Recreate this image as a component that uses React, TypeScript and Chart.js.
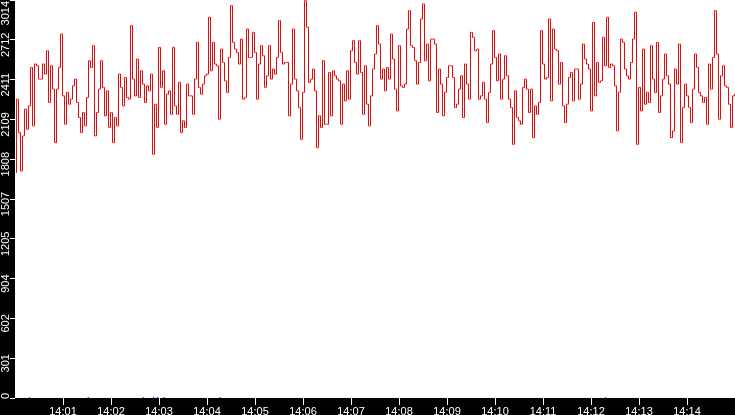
import { useEffect, useRef } from "react";
import { Chart, registerables } from "chart.js";

Chart.register(...registerables);

// Sampling: one reading every 2.5 seconds from 14:00:00 to 14:15:00
const SAMPLE_SECONDS = 2.5;
const SPAN_SECONDS = 900;
const Y_MAX = 3014;

const xTickLabels = [
  "14:01", "14:02", "14:03", "14:04", "14:05", "14:06", "14:07",
  "14:08", "14:09", "14:10", "14:11", "14:12", "14:13", "14:14",
];

const yTickLabels = [
  "0", "301", "602", "904", "1205", "1507", "1808", "2109", "2411", "2712", "3014",
];

const lineValues = [
  1706, 2263, 2010, 1719, 1985, 2187, 2035, 2212, 2503, 2061, 2529, 2516, 2415, 2415, 2529, 2453, 2630, 2238, 2516, 2339,
  1934, 2339, 2503, 2756, 2288, 2073, 2314, 2225, 2263, 2364, 2415, 2238, 2124, 2010, 2162, 2061, 2276, 2554, 2503, 2668,
  1985, 2162, 2339, 2554, 2352, 2137, 2326, 2048, 2162, 1934, 2124, 2061, 2453, 2352, 2212, 2427, 2276, 2263, 2820, 2415,
  2288, 2567, 2276, 2478, 2377, 2238, 2364, 2326, 2453, 1846, 2225, 2048, 2655, 2352, 2478, 2073, 2301, 2326, 2149, 2655,
  2212, 2149, 2390, 2010, 2099, 2048, 2377, 2288, 2288, 2149, 2415, 2693, 2352, 2301, 2377, 2440, 2453, 2883, 2478, 2693,
  2529, 2516, 2111, 2642, 2541, 2402, 2314, 2579, 2971, 2693, 2642, 2617, 2529, 2718, 2263, 2276, 2794, 2579, 2579, 2769,
  2617, 2263, 2529, 2668, 2592, 2352, 2440, 2668, 2415, 2491, 2453, 2579, 2858, 2617, 2529, 2541, 2541, 2137, 2377, 2794,
  2415, 2326, 2200, 1959, 2314, 3009, 2807, 2390, 2415, 2491, 2326, 1896, 2137, 2048, 2554, 2073, 2073, 2465, 2137, 2478,
  2440, 2415, 2402, 2073, 2377, 2250, 2478, 2263, 2630, 2706, 2541, 2453, 2706, 2465, 2149, 2516, 2225, 2061, 2288, 2491,
  2605, 2820, 2680, 2415, 2491, 2326, 2503, 2415, 2756, 2567, 2339, 2174, 2668, 2364, 2352, 2377, 2794, 2933, 2668, 2655,
  2554, 2377, 2541, 2870, 2984, 2554, 2680, 2402, 2718, 2718, 2680, 2162, 2491, 2377, 2137, 2314, 2427, 2516, 2516, 2427,
  2200, 2225, 2339, 2440, 2124, 2529, 2377, 2263, 2769, 2731, 2630, 2642, 2263, 2288, 2390, 2263, 2086, 2314, 2529, 2782,
  2579, 2402, 2605, 2263, 2415, 2592, 2440, 2263, 2200, 1921, 2326, 2124, 2099, 2073, 2352, 2415, 2339, 2162, 2339, 1972,
  2212, 2149, 2238, 2782, 2529, 2415, 2427, 2870, 2250, 2794, 2642, 2630, 2377, 2541, 2212, 2086, 2225, 2427, 2465, 2250,
  2491, 2491, 2263, 2377, 2680, 2567, 2529, 2491, 2174, 2845, 2288, 2541, 2390, 2402, 2731, 2516, 2883, 2503, 2529, 2516,
  2364, 2023, 2314, 2718, 2693, 2491, 2440, 2415, 2541, 2718, 2921, 1921, 2352, 2174, 2642, 2225, 2314, 2238, 2668, 2415,
  2314, 2693, 2162, 2288, 2415, 2605, 2440, 2377, 1972, 2023, 2491, 2377, 2680, 1934, 2200, 2377, 2288, 2200, 2086, 2339,
  2605, 2503, 2314, 2288, 2238, 2276, 2073, 2529, 2339, 2579, 2933, 2605, 2111, 2440, 2516, 2364, 2352, 2225, 2048, 2288,
  2301,
];

// small blue markers sitting on the zero line (seconds after 14:00)
const markerSeconds = [17.5, 91, 160, 172.5, 177.5, 186, 256, 737.5];

const FONT_FAMILY = "'Liberation Sans', Arial, sans-serif";
const FONT = { family: FONT_FAMILY, size: 11 };

const backgroundPlugin = {
  id: "bgPlugin",
  beforeDraw(chart: any) {
    const { ctx, chartArea: a, width, height } = chart;
    ctx.save();
    ctx.fillStyle = "#000000";
    ctx.fillRect(0, 0, width, height);
    ctx.fillStyle = "#ffffff";
    ctx.fillRect(a.left, a.top, a.right - a.left, a.bottom - a.top);
    ctx.restore();
  },
};

// crisp 1px strokes: shift datasets half a pixel
const crispPlugin = {
  id: "crispPlugin",
  beforeDatasetsDraw(chart: any) {
    chart.ctx.save();
    chart.ctx.translate(0.5, 0);
  },
  afterDatasetsDraw(chart: any) {
    chart.ctx.restore();
  },
};

// rotated y-axis labels, centred just below each tick and kept inside the plot height
const yLabelPlugin = {
  id: "yLabelPlugin",
  afterDraw(chart: any) {
    const { ctx, chartArea: a } = chart;
    const yScale = chart.scales.y;
    ctx.save();
    ctx.font = `11px ${FONT_FAMILY}`;
    ctx.fillStyle = "#ffffff";
    ctx.textAlign = "center";
    ctx.textBaseline = "middle";
    yTickLabels.forEach((label, i) => {
      const pixel = yScale.getPixelForValue((i * Y_MAX) / 10);
      const w = ctx.measureText(label).width;
      let c = pixel + 5;
      c = Math.max(c, a.top + 1 + w / 2);
      c = Math.min(c, a.bottom + 1 - w / 2);
      ctx.save();
      ctx.translate(6, c);
      ctx.rotate(-Math.PI / 2);
      ctx.fillText(label, 0, 0);
      ctx.restore();
    });
    ctx.restore();
  },
};

const zeroPadding = (scale: any) => {
  scale.paddingTop = 0;
  scale.paddingBottom = 0;
  scale.paddingLeft = 0;
  scale.paddingRight = 0;
};

export default function App() {
  const canvasRef = useRef<HTMLCanvasElement | null>(null);

  useEffect(() => {
    document.body.style.margin = "0";
    const canvas = canvasRef.current;
    if (!canvas) return;
    const chart = new Chart(canvas, {
      type: "line",
      data: {
        datasets: [
          {
            type: "scatter",
            data: markerSeconds.map((s) => ({ x: s, y: 0 })),
            pointStyle: "rect",
            pointRadius: 1,
            pointHoverRadius: 0,
            backgroundColor: "#0000ff",
            borderColor: "#0000ff",
            borderWidth: 0,
          } as any,
          {
            data: lineValues.map((v, i) => ({ x: i * SAMPLE_SECONDS, y: v })),
            borderColor: "#ff0000",
            borderWidth: 1,
            pointRadius: 0,
            pointHoverRadius: 0,
            stepped: "middle",
            fill: false,
          },
        ],
      },
      options: {
        animation: false,
        responsive: false,
        devicePixelRatio: 1,
        events: [],
        layout: { padding: 0, autoPadding: false },
        plugins: {
          legend: { display: false },
          tooltip: { enabled: false },
        },
        scales: {
          x: {
            type: "linear",
            min: 0,
            max: SPAN_SECONDS,
            afterBuildTicks: (scale: any) => {
              scale.ticks = xTickLabels.map((_, i) => ({ value: (i + 1) * 60 }));
            },
            afterFit: (scale: any) => {
              scale.height = 17;
              zeroPadding(scale);
            },
            ticks: {
              color: "#ffffff",
              font: FONT,
              padding: 0,
              maxRotation: 0,
              minRotation: 0,
              autoSkip: false,
              callback: (_v: any, i: number) => xTickLabels[i],
            },
            grid: {
              drawOnChartArea: false,
              color: "#ffffff",
              tickLength: 7,
              tickWidth: 1,
            },
            border: { display: false },
          },
          y: {
            type: "linear",
            min: 0,
            max: Y_MAX,
            afterBuildTicks: (scale: any) => {
              scale.ticks = yTickLabels.map((_, i) => ({ value: (i * Y_MAX) / 10 }));
            },
            afterFit: (scale: any) => {
              scale.width = 15;
              zeroPadding(scale);
            },
            ticks: {
              display: false,
              autoSkip: false,
            },
            grid: {
              drawOnChartArea: false,
              drawTicks: true,
              color: "#ffffff",
              tickLength: 5,
              tickWidth: 1,
            },
            border: { display: false },
          },
        },
      } as any,
      plugins: [backgroundPlugin, crispPlugin, yLabelPlugin],
    });
    return () => chart.destroy();
  }, []);

  return (
    <div style={{ position: "fixed", left: 0, top: 0, width: 735, height: 415 }}>
      <canvas ref={canvasRef} width={735} height={415} style={{ display: "block" }} />
    </div>
  );
}
